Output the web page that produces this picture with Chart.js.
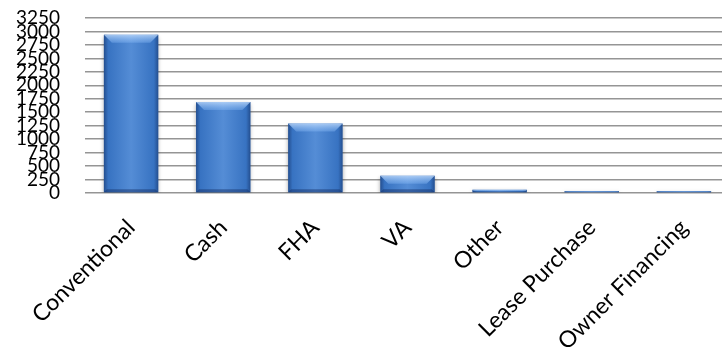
<!DOCTYPE html>
<html>
<head>
<meta charset="utf-8">
<script src="https://cdn.jsdelivr.net/npm/chart.js@4/dist/chart.umd.min.js"></script>
<style>
  html, body { margin: 0; padding: 0; background: #fff; overflow: hidden; }
  #wrap { width: 722px; height: 354px; overflow: hidden; }
</style>
</head>
<body>
<div id="wrap"><canvas id="grafico" width="730" height="354"></canvas></div>
<script>
const categorias = ['Conventional', 'Cash', 'FHA', 'VA', 'Other', 'Lease Purchase', 'Owner Financing'];
const ventas = [2940, 1690, 1290, 320, 60, 35, 35];
const ticksY = [0, 250, 500, 750, 1000, 1250, 1500, 1750, 2000, 2250, 2500, 2750, 3000, 3250];

const fuente = 'Lato, "Open Sans", sans-serif';

// sombra debajo de las barras y relieve encima
const relieve = {
  id: 'relieve',
  beforeDatasetsDraw(chart) {
    const c = chart.ctx;
    c.save();
    c.shadowColor = 'rgba(0,0,0,0.35)';
    c.shadowBlur = 4;
    c.shadowOffsetY = 2;
  },
  afterDatasetsDraw(chart) {
    const c = chart.ctx;
    c.restore();
    chart.getDatasetMeta(0).data.forEach(bar => {
      const { x, y, base, width } = bar.getProps(['x', 'y', 'base', 'width'], true);
      const izq = x - width / 2, der = x + width / 2;
      const alto = base - y;
      if (alto <= 0) return;

      const g = c.createLinearGradient(izq, 0, der, 0);
      g.addColorStop(0, 'rgba(15,40,90,0.55)');
      g.addColorStop(0.08, 'rgba(15,40,90,0.12)');
      g.addColorStop(0.5, 'rgba(255,255,255,0.12)');
      g.addColorStop(0.92, 'rgba(15,40,90,0.12)');
      g.addColorStop(1, 'rgba(15,40,90,0.55)');
      c.fillStyle = g;
      c.fillRect(izq, y, width, alto);

      const b = Math.min(8, alto / 2);
      const gt = c.createLinearGradient(0, y, 0, y + b);
      gt.addColorStop(0, 'rgba(200,225,255,0.75)');
      gt.addColorStop(1, 'rgba(140,190,250,0.35)');
      c.fillStyle = gt;
      c.beginPath();
      c.moveTo(izq, y);
      c.lineTo(der, y);
      c.lineTo(der - b, y + b);
      c.lineTo(izq + b, y + b);
      c.closePath();
      c.fill();

      const bb = Math.min(3, alto / 3);
      c.fillStyle = 'rgba(20,45,100,0.45)';
      c.beginPath();
      c.moveTo(izq, base);
      c.lineTo(der, base);
      c.lineTo(der - bb, base - bb);
      c.lineTo(izq + bb, base - bb);
      c.closePath();
      c.fill();
    });
  }
};

new Chart(document.getElementById('grafico').getContext('2d'), {
  type: 'bar',
  data: {
    labels: categorias,
    datasets: [{
      data: ventas,
      backgroundColor: '#3d7dd0',
      borderWidth: 0,
      categoryPercentage: 1,
      barPercentage: 0.59,
    }],
  },
  options: {
    responsive: false,
    animation: false,
    layout: { padding: { top: 18 } },
    plugins: { legend: { display: false }, tooltip: { enabled: false } },
    scales: {
      x: {
        grid: { display: false },
        border: { display: false },
        ticks: {
          autoSkip: false,
          maxRotation: 45,
          minRotation: 45,
          padding: 13,
          color: '#000',
          font: { family: fuente, size: 23 },
        },
        afterFit(scale) { scale.height = 161; },
      },
      y: {
        min: 0,
        max: 3250,
        border: { display: false },
        grid: { color: '#959595', lineWidth: 1.5, drawTicks: true, tickLength: 25, tickColor: 'rgba(0,0,0,0)' },
        afterBuildTicks(scale) { scale.ticks = ticksY.map(v => ({ value: v })); },
        ticks: {
          autoSkip: false,
          padding: 0,
          color: '#000',
          font: { family: fuente, size: 19 },
          callback: v => String(v),
        },
        afterFit(scale) { scale.width = 85; },
      },
    },
  },
  plugins: [relieve],
});
</script>
</body>
</html>
